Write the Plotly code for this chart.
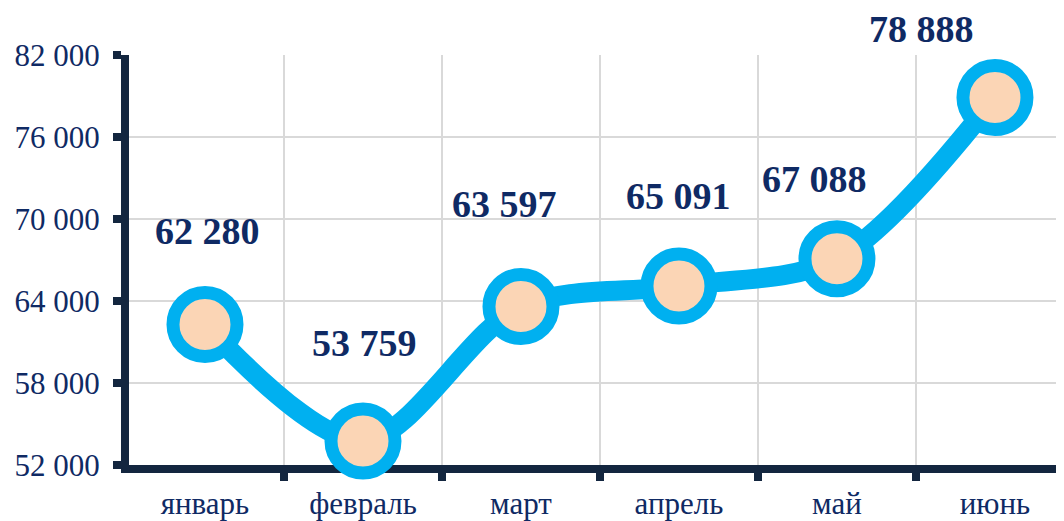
import plotly.graph_objects as go

months = ["январь", "февраль", "март", "апрель", "май", "июнь"]
values = [62280, 53759, 63597, 65091, 67088, 78888]
y_ticks = [52000, 58000, 64000, 70000, 76000, 82000]

# label offsets (pixels) relative to each point
label_dx = [3, 2, -16, 0, -22, -73]
label_dy = [-94, -98, -103, -90, -80, -69]

TEXT = "#0F2A64"
AXIS = "#13263F"
LINE = "#00B0F0"
FILL = "#FBD5B5"
FONT = "Liberation Serif"

fig = go.Figure()
fig.add_trace(go.Scatter(
    x=months, y=values, mode="lines+markers",
    line=dict(color=LINE, width=20, shape="spline", smoothing=0.9),
    marker=dict(size=64, color=FILL, line=dict(color=LINE, width=13)),
    cliponaxis=False, hoverinfo="skip",
))

for m, v, dx, dy in zip(months, values, label_dx, label_dy):
    fig.add_annotation(
        x=m, y=v, xref="x", yref="y",
        text=f"<b>{v:,}</b>".replace(",", " "),
        showarrow=True, arrowcolor="rgba(0,0,0,0)", ax=dx, ay=dy,
        font=dict(family=FONT, size=38, color=TEXT),
    )

fig.update_layout(
    width=1056, height=513,
    margin=dict(l=121, r=0, t=47, b=56, autoexpand=False),
    paper_bgcolor="white", plot_bgcolor="white",
    showlegend=False,
    separators=", ",
    font=dict(family=FONT, color=TEXT),
)
fig.update_xaxes(
    range=[-0.481, 5.437], tickson="boundaries",
    showgrid=True, gridcolor="#D9D9D9", gridwidth=2,
    showline=True, linecolor=AXIS, linewidth=8,
    ticks="outside", ticklen=8, tickwidth=8, tickcolor=AXIS,
    tickfont=dict(family=FONT, size=31, color=TEXT),
    ticklabelstandoff=4, automargin=False,
    layer="below traces", zeroline=False,
)
fig.update_yaxes(
    range=[52000, 82000], tickvals=y_ticks,
    tickformat=",d",
    showgrid=True, gridcolor="#D9D9D9", gridwidth=2,
    showline=True, linecolor=AXIS, linewidth=8,
    ticks="outside", ticklen=8, tickwidth=8, tickcolor=AXIS,
    tickfont=dict(family=FONT, size=31, color=TEXT),
    ticklabelstandoff=7, automargin=False,
    layer="below traces", zeroline=False,
)

fig.write_html("out.html")
